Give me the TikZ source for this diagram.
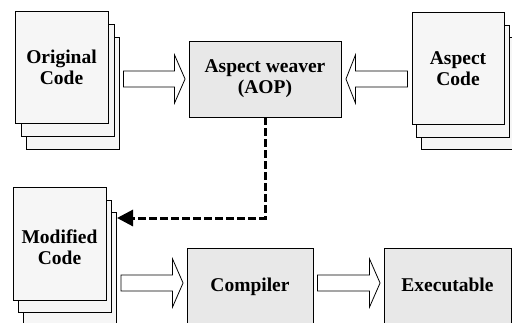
\documentclass[tikz,border=0pt]{standalone}
\usepackage{fontspec}
\setmainfont{Liberation Serif}
\usetikzlibrary{arrows.meta,calc}

\tikzset{
  page/.style={draw=black, line width=0.9pt, fill=gray!7, minimum width=93pt,
    minimum height=112pt, inner sep=0pt},
  proc/.style={draw=black, line width=0.9pt, fill=gray!18, inner sep=0pt},
  lbl/.style={font=\bfseries\fontsize{19.5}{21}\selectfont, align=center},
  hollow/.style={draw=black, fill=white, line width=0.8pt, line join=miter},
  % block arrow pointing right, drawn along the height of its start point
  blockR/.style={hollow, to path={
    let \p1=(\tikztostart), \p2=(\tikztotarget) in
    (\x1+4pt,\y1+8pt) -- (\x2-14pt,\y1+8pt) -- (\x2-14pt,\y1+24pt) -- (\x2-3.5pt,\y1)
    -- (\x2-14pt,\y1-24pt) -- (\x2-14pt,\y1-8pt) -- (\x1+4pt,\y1-8pt) -- cycle}},
  % block arrow pointing left
  blockL/.style={hollow, to path={
    let \p1=(\tikztostart), \p2=(\tikztotarget) in
    (\x1-4pt,\y1+8pt) -- (\x2+14pt,\y1+8pt) -- (\x2+14pt,\y1+24pt) -- (\x2+4.5pt,\y1)
    -- (\x2+14pt,\y1-24pt) -- (\x2+14pt,\y1-8pt) -- (\x1-4pt,\y1-8pt) -- cycle}},
  feedback/.style={draw=black, line width=3pt, dash pattern=on 7.5pt off 3.5pt,
    -{Triangle[length=16pt,width=16pt]}}
}

\begin{document}
\begin{tikzpicture}[x=1pt,y=-1pt]
  \useasboundingbox (0,0) rectangle (512,322);

  % Original code: stack of three pages
  \node[page] (orig3) at (72.5,93) {};
  \node[page] (orig2) at (67.5,80.5) {};
  \node[page, lbl] (orig1) at (61.5,67.5) {Original\\Code};

  % Aspect code: stack of three pages
  \node[page] (asp3) at (468,93) {};
  \node[page] (asp2) at (463,81) {};
  \node[page, lbl, minimum width=92pt] (asp1) at (458,68.5) {Aspect\\Code};

  % Modified code: stack of three pages
  \node[page] (mod3) at (70,268.5) {};
  \node[page] (mod2) at (65,256) {};
  \node[page, minimum height=113pt] (mod1) at (59.5,243.5) {};
  \node[lbl] (modtxt) at (59.5,247.5) {Modified\\Code};

  % Processing boxes
  \node[proc, lbl, minimum width=152pt, minimum height=76pt] (weaver) at (265,79) {Aspect weaver\\(AOP)};
  \node[proc, minimum width=126pt, minimum height=78pt] (comp) at (250,287) {};
  \node[lbl, anchor=base] (comptxt) at (250,291) {Compiler};
  \node[proc, minimum width=127pt, minimum height=78pt] (exec) at (447.5,287) {};
  \node[lbl, anchor=base] (exectxt) at (447.5,291) {Executable};

  % Block arrows
  \draw[blockR] (weaver.west -| orig3.east) to (weaver.west);
  \draw[blockL] (weaver.east -| asp1.west) to (weaver.east);
  \draw[blockR] ($(comp.west -| mod3.east)+(0,-4)$) to ($(comp.west)+(0,-4)$);
  \draw[blockR] ($(exec.west -| comp.east)+(0,-4)$) to ($(exec.west)+(0,-4)$);

  % Feedback from the weaver to the modified code
  \coordinate (fbend) at (117,218);
  \draw[feedback] (weaver.south) |- (fbend);
\end{tikzpicture}
\end{document}
